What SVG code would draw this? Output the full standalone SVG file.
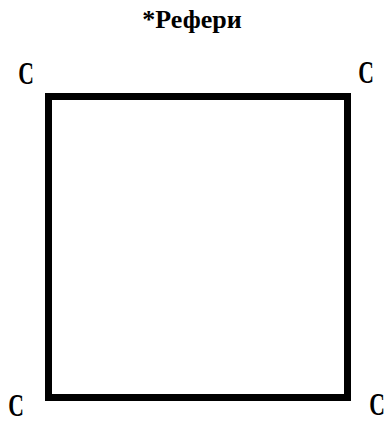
<svg xmlns="http://www.w3.org/2000/svg" width="386" height="423" viewBox="0 0 386 423">
<style>
.t{font-family:"Liberation Serif",serif;font-weight:bold;font-size:26px;fill:#000}
.c{font-family:"Liberation Serif",serif;font-weight:bold;font-size:31px;fill:#000}
</style>
<rect width="386" height="423" fill="#fff"/>
<text class="t" x="192" y="28" text-anchor="middle">*Рефери</text>
<g id="square"><rect x="48.5" y="96.5" width="299" height="301" fill="none" stroke="#000" stroke-width="7"/></g>
<g id="labels">
<text class="c" text-anchor="middle" transform="translate(26 84) scale(0.7 1)">C</text>
<text class="c" text-anchor="middle" transform="translate(366 83) scale(0.7 1)">C</text>
<text class="c" text-anchor="middle" transform="translate(16 416) scale(0.7 1)">C</text>
<text class="c" text-anchor="middle" transform="translate(377 415) scale(0.7 1)">C</text>
</g>
</svg>
